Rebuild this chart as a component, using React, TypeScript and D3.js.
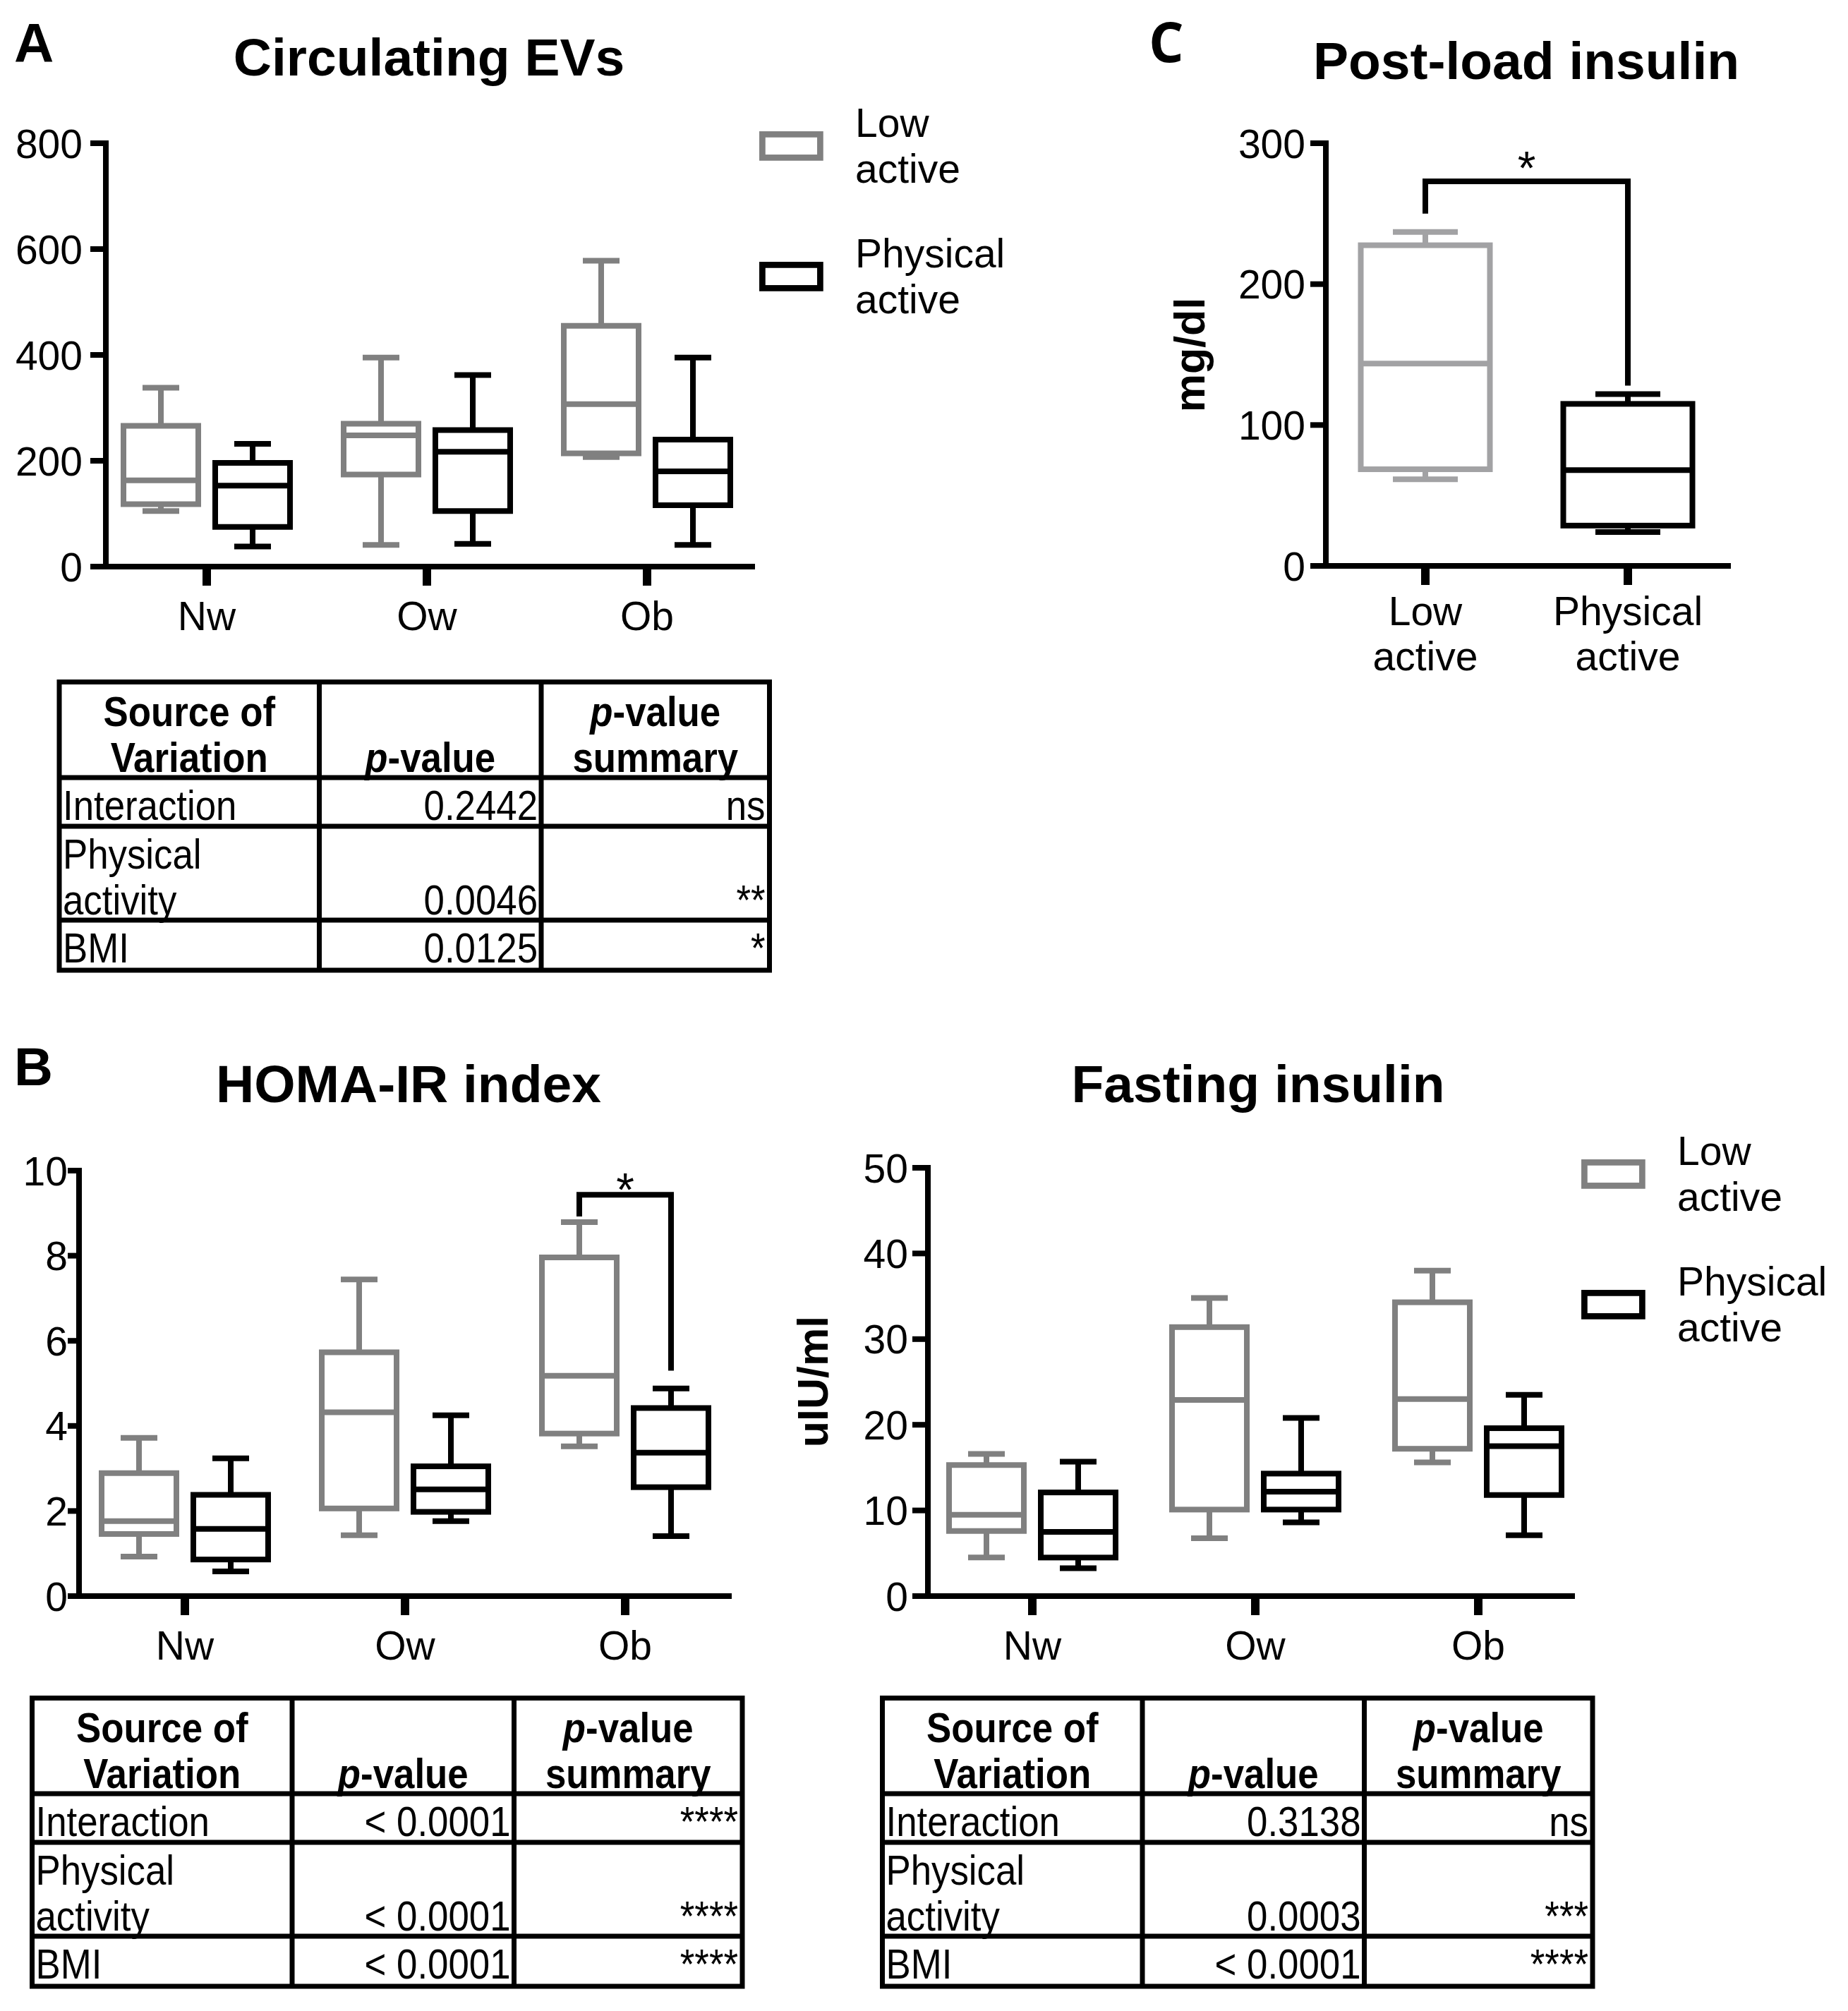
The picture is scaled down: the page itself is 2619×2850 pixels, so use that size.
import React from "react";
import * as d3 from "d3";

// ---------------- DATA ----------------
const GROUPS = ["Nw", "Ow", "Ob"];
const SERIES = ["Low active", "Physical active"];
// each entry: [min, q1, median, q3, max] per group (Nw, Ow, Ob)
const EV_LOW = [
  [105, 118, 163, 266, 338],
  [41, 174, 248, 270, 395],
  [207, 214, 307, 455, 578],
];
const EV_PHYS = [
  [38, 75, 153, 196, 232],
  [43, 105, 217, 258, 362],
  [41, 116, 180, 240, 395],
];
const EV_TICKS = [0, 200, 400, 600, 800];

const HOMA_LOW = [
  [0.93, 1.46, 1.76, 2.89, 3.72],
  [1.43, 2.06, 4.32, 5.73, 7.44],
  [3.52, 3.82, 5.18, 7.96, 8.79],
];
const HOMA_PHYS = [
  [0.58, 0.86, 1.58, 2.38, 3.24],
  [1.76, 1.98, 2.51, 3.05, 4.25],
  [1.41, 2.56, 3.37, 4.42, 4.88],
];
const HOMA_TICKS = [0, 2, 4, 6, 8, 10];
// significance bracket: [group, top, left end, right end]
const HOMA_SIG = ["Ob", 9.43, 8.92, 5.3];

const FAST_LOW = [
  [4.5, 7.6, 9.5, 15.3, 16.6],
  [6.75, 10.1, 22.9, 31.4, 34.8],
  [15.6, 17.2, 23.0, 34.3, 38.0],
];
const FAST_PHYS = [
  [3.25, 4.5, 7.5, 12.1, 15.7],
  [8.6, 10.1, 12.2, 14.3, 20.8],
  [7.1, 11.8, 17.5, 19.6, 23.5],
];
const FAST_TICKS = [0, 10, 20, 30, 40, 50];

const POST_GROUPS = ["Low active", "Physical active"];
const POST_STATS = [
  [61.5, 68.6, 143.6, 227.6, 237],
  [24, 28.6, 68, 115, 122],
];
const POST_TICKS = [0, 100, 200, 300];
const POST_SIG = [273, 250, 128];

const TABLE_SOURCES = [["Interaction"], ["Physical", "activity"], ["BMI"]];
const EV_P = ["0.2442", "0.0046", "0.0125"];
const EV_SUM = ["ns", "**", "*"];
const HOMA_P = ["< 0.0001", "< 0.0001", "< 0.0001"];
const HOMA_SUM = ["****", "****", "****"];
const FAST_P = ["0.3138", "0.0003", "< 0.0001"];
const FAST_SUM = ["ns", "***", "****"];

// ---------------- STYLE ----------------
const FONT = "'Liberation Sans', Arial, Helvetica, sans-serif";
const GRAY = "#808080";
const GRAY_C = "#a2a2a4";
const BLACK = "#000000";
const SW = 8;

type Stats = number[];

function Box({ cx, w, capW, y, s, color }: any) {
  const [mn, q1, md, q3, mx] = s as Stats;
  return (
    <g stroke={color} strokeWidth={SW} fill="none">
      <line x1={cx} x2={cx} y1={y(q3)} y2={y(mx)} />
      <line x1={cx} x2={cx} y1={y(q1)} y2={y(mn)} />
      <line x1={cx - capW / 2} x2={cx + capW / 2} y1={y(mx)} y2={y(mx)} />
      <line x1={cx - capW / 2} x2={cx + capW / 2} y1={y(mn)} y2={y(mn)} />
      <rect x={cx - w / 2} y={y(q3)} width={w} height={y(q1) - y(q3)} fill="white" />
      <line x1={cx - w / 2} x2={cx + w / 2} y1={y(md)} y2={y(md)} />
    </g>
  );
}

function Axes({ y, x, ticks, axisX, axisRight, tickLen, labelGap, groups, catLines, catY }: any) {
  const y0 = y(0);
  const yTop = y(ticks[ticks.length - 1]);
  return (
    <g>
      <line x1={axisX} x2={axisX} y1={yTop - SW / 2} y2={y0} stroke="#000" strokeWidth={SW} />
      <line x1={axisX - tickLen} x2={axisRight} y1={y0} y2={y0} stroke="#000" strokeWidth={SW} />
      {ticks.map((t: number) => (
        <g key={t}>
          <line x1={axisX - tickLen} x2={axisX} y1={y(t)} y2={y(t)} stroke="#000" strokeWidth={SW} />
          <text x={axisX - labelGap} y={y(t)} dy="0.36em" textAnchor="end" fontSize={57} fontFamily={FONT}>
            {t}
          </text>
        </g>
      ))}
      {groups.map((g: string, i: number) => (
        <g key={g}>
          <line x1={x(g)} x2={x(g)} y1={y0} y2={y0 + 27} stroke="#000" strokeWidth={12} />
          {catLines[i].map((ln: string, j: number) => (
            <text key={j} x={x(g)} y={catY + j * 64} textAnchor="middle" fontSize={57} fontFamily={FONT}>
              {ln}
            </text>
          ))}
        </g>
      ))}
    </g>
  );
}

function Legend({ x, y }: any) {
  const colors = [GRAY, BLACK];
  return (
    <g>
      {SERIES.map((s, i) => {
        const [l1, l2] = [s.split(" ")[0], s.split(" ")[1]];
        const top = y + i * 185;
        return (
          <g key={s}>
            <rect x={x + 4.4} y={top + 4.4} width={82} height={33} fill="none" stroke={colors[i]} strokeWidth={8.7} />
            <text x={x + 136} y={top + 8} fontSize={57} fontFamily={FONT}>{l1}</text>
            <text x={x + 136} y={top + 73} fontSize={57} fontFamily={FONT}>{l2}</text>
          </g>
        );
      })}
    </g>
  );
}

function Star({ x, cy }: any) {
  const fs = 66;
  return (
    <text x={x} y={cy + 0.575 * fs} textAnchor="middle" fontSize={fs} fontFamily={FONT}>*</text>
  );
}

function GroupedPanel({ low, phys, ticks, axisX, axisRight, y0, yTop, xRange, labelGap, tickLen, catY, sig }: any) {
  const max = ticks[ticks.length - 1];
  const y = d3.scaleLinear().domain([0, max]).range([y0, yTop]);
  const x = d3.scalePoint<string>().domain(GROUPS).range(xRange);
  const off = 65;
  let bracket: any = null;
  if (sig) {
    const [g, top, l, r] = sig;
    const xl = (x(g) as number) - off;
    const xr = (x(g) as number) + off;
    bracket = (
      <g>
        <path d={`M${xl},${y(l)}V${y(top)}H${xr}V${y(r)}`} fill="none" stroke="#000" strokeWidth={SW} />
        <Star x={(xl + xr) / 2} cy={y(top) - 22} />
      </g>
    );
  }
  return (
    <g>
      <Axes y={y} x={x} ticks={ticks} axisX={axisX} axisRight={axisRight} tickLen={tickLen} labelGap={labelGap}
        groups={GROUPS} catLines={GROUPS.map((g) => [g])} catY={catY} />
      {GROUPS.map((g, i) => (
        <g key={g}>
          <Box cx={(x(g) as number) - off} w={106} capW={52} y={y} s={low[i]} color={GRAY} />
          <Box cx={(x(g) as number) + off} w={106} capW={52} y={y} s={phys[i]} color={BLACK} />
        </g>
      ))}
      {bracket}
    </g>
  );
}

const TFS = 60;
const TSX = 0.88;

function SText({ x, y, anchor, children, fs = TFS, sx = TSX, bold = false }: any) {
  return (
    <g transform={`translate(${x},${y}) scale(${sx},1)`}>
      <text x={0} y={0} textAnchor={anchor} fontSize={fs} fontFamily={FONT} fontWeight={bold ? "bold" : "normal"}>
        {children}
      </text>
    </g>
  );
}

function StatTable({ left, top, pvals, sums }: any) {
  const cols = [0, 368.5, 683, 1006.5].map((c) => left + c);
  const rows = [0, 135.5, 204.5, 337.5, 408.5].map((r) => top + r);
  const lw = 7;
  const bodyBase = [195.5, 329.5, 397.5];
  const c1 = (cols[0] + cols[1]) / 2;
  const c2 = (cols[1] + cols[2]) / 2;
  const c3 = (cols[2] + cols[3]) / 2;
  return (
    <g>
      <rect x={cols[0]} y={rows[0]} width={cols[3] - cols[0]} height={rows[4] - rows[0]} fill="none" stroke="#000" strokeWidth={lw} />
      {rows.slice(1, 4).map((r, i) => (
        <line key={i} x1={cols[0]} x2={cols[3]} y1={r} y2={r} stroke="#000" strokeWidth={lw} />
      ))}
      {cols.slice(1, 3).map((c, i) => (
        <line key={i} x1={c} x2={c} y1={rows[0]} y2={rows[4]} stroke="#000" strokeWidth={lw} />
      ))}
      <SText x={c1} y={top + 62.5} anchor="middle" bold>Source of</SText>
      <SText x={c1} y={top + 127.5} anchor="middle" bold>Variation</SText>
      <SText x={c2} y={top + 127.5} anchor="middle" bold>
        <tspan fontStyle="italic">p</tspan>-value
      </SText>
      <SText x={c3} y={top + 62.5} anchor="middle" bold>
        <tspan fontStyle="italic">p</tspan>-value
      </SText>
      <SText x={c3} y={top + 127.5} anchor="middle" bold>summary</SText>
      {TABLE_SOURCES.map((src, i) => (
        <g key={i}>
          {src.map((ln, j) => (
            <SText key={j} x={cols[0] + 5} y={top + bodyBase[i] - (src.length - 1 - j) * 65} anchor="start">
              {ln}
            </SText>
          ))}
          <SText x={cols[2] - 5} y={top + bodyBase[i]} anchor="end">{pvals[i]}</SText>
          <SText x={cols[3] - 6} y={top + bodyBase[i]} anchor="end">{sums[i]}</SText>
        </g>
      ))}
    </g>
  );
}

function PostLoadPanel() {
  const axisX = 1879;
  const y = d3.scaleLinear().domain([0, 300]).range([802, 203]);
  const x = d3.scalePoint<string>().domain(POST_GROUPS).range([2020, 2307]);
  const colors = [GRAY_C, BLACK];
  const [top, l, r] = POST_SIG;
  const xl = x(POST_GROUPS[0]) as number;
  const xr = x(POST_GROUPS[1]) as number;
  return (
    <g>
      <Axes y={y} x={x} ticks={POST_TICKS} axisX={axisX} axisRight={2453} tickLen={22} labelGap={29}
        groups={POST_GROUPS} catLines={POST_GROUPS.map((g) => g.split(" "))} catY={886} />
      {POST_GROUPS.map((g, i) => (
        <Box key={g} cx={x(g)} w={183} capW={92} y={y} s={POST_STATS[i]} color={colors[i]} />
      ))}
      <path d={`M${xl},${y(l)}V${y(top)}H${xr}V${y(r)}`} fill="none" stroke="#000" strokeWidth={SW} />
      <Star x={(xl + xr) / 2} cy={223} />
      <text transform="translate(1707,503) rotate(-90)" textAnchor="middle" fontSize={61} fontWeight="bold" fontFamily={FONT}>
        mg/dl
      </text>
    </g>
  );
}

export default function App() {
  const titleProps = { fontSize: 75, fontWeight: "bold", fontFamily: FONT, textAnchor: "middle" } as any;
  return (
    <div>
      <style>{"body{margin:0;background:#fff}"}</style>
      <svg width={2619} height={2850} viewBox="0 0 2619 2850" style={{ display: "block", background: "#fff" }}>
        <rect width={2619} height={2850} fill="#fff" />
        {/* Panel labels */}
        <text x={20} y={88} fontSize={78} fontWeight="bold" fontFamily={FONT}>A</text>
        <text x={20} y={1538} fontSize={76} fontWeight="bold" fontFamily={FONT}>B</text>
        <text x={1628} y={88} fontSize={78} fontWeight="bold" fontFamily="'Open Sans', 'DejaVu Sans', sans-serif">C</text>

        {/* Titles */}
        <text x={608} y={107} {...titleProps}>Circulating EVs</text>
        <text x={2163} y={112} {...titleProps}>Post-load insulin</text>
        <text x={579} y={1562} {...titleProps}>HOMA-IR index</text>
        <text x={1783} y={1562} {...titleProps}>Fasting insulin</text>

        {/* Panel A */}
        <GroupedPanel low={EV_LOW} phys={EV_PHYS} ticks={EV_TICKS} axisX={150} axisRight={1070}
          y0={803} yTop={203} xRange={[293, 917]} labelGap={33} tickLen={22} catY={893} />
        <Legend x={1076} y={186} />
        <StatTable left={84} top={966.5} pvals={EV_P} sums={EV_SUM} />

        {/* Panel C */}
        <PostLoadPanel />

        {/* Panel B - HOMA */}
        <GroupedPanel low={HOMA_LOW} phys={HOMA_PHYS} ticks={HOMA_TICKS} axisX={112} axisRight={1037}
          y0={2262} yTop={1659} xRange={[262, 886]} labelGap={16} tickLen={16} catY={2352} sig={HOMA_SIG} />
        <StatTable left={45.5} top={2406.5} pvals={HOMA_P} sums={HOMA_SUM} />

        {/* Panel B - Fasting insulin */}
        <GroupedPanel low={FAST_LOW} phys={FAST_PHYS} ticks={FAST_TICKS} axisX={1315} axisRight={2232}
          y0={2262} yTop={1655} xRange={[1463, 2095]} labelGap={28} tickLen={22} catY={2352} />
        <text transform="translate(1173,1958) rotate(-90)" textAnchor="middle" fontSize={61} fontWeight="bold" fontFamily={FONT}>
          uIU/ml
        </text>
        <Legend x={2241} y={1643} />
        <StatTable left={1250.5} top={2406.5} pvals={FAST_P} sums={FAST_SUM} />
      </svg>
    </div>
  );
}
